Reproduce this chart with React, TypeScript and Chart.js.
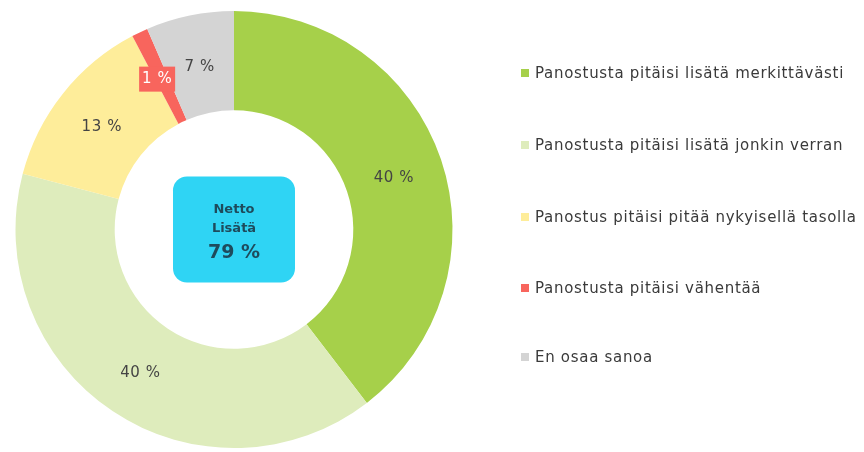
import React, { useEffect, useRef } from "react";
import { Chart, registerables } from "chart.js";

Chart.register(...registerables);

const categories = [
  "Panostusta pitäisi lisätä merkittävästi",
  "Panostusta pitäisi lisätä jonkin verran",
  "Panostus pitäisi pitää nykyisellä tasolla",
  "Panostusta pitäisi vähentää",
  "En osaa sanoa",
];
const values = [39.6, 39.5, 13.2, 1.2, 6.5];
const valueLabels = ["40 %", "40 %", "13 %", "1 %", "7 %"];
const colors = ["#a6d04a", "#deecbc", "#feed9a", "#f8655d", "#d4d4d4"];
const centerTitle = ["Netto", "Lisätä"];
const centerValue = "79 %";

const FONT = "'DejaVu Sans', sans-serif";

const labelPlugin = {
  id: "sliceLabels",
  afterDatasetsDraw(chart: any) {
    const ctx = chart.ctx;
    const meta = chart.getDatasetMeta(0);
    ctx.save();
    ctx.textAlign = "center";
    ctx.textBaseline = "middle";
    ctx.font = `15px ${FONT}`;
    (ctx as any).letterSpacing = "0.6px";
    meta.data.forEach((arc: any, i: number) => {
      const p = arc.getCenterPoint();
      const text = valueLabels[i];
      if (i === 3) {
        const w = 36;
        ctx.fillStyle = colors[3];
        ctx.fillRect(p.x - 4 - w / 2, p.y + 2 - 12.5, w, 25);
        ctx.fillStyle = "#ffffff";
        ctx.fillText(text, p.x - 4, p.y + 2);
      } else {
        ctx.fillStyle = "#444444";
        ctx.fillText(text, p.x, p.y + 3);
      }
    });
    (ctx as any).letterSpacing = "0px";
    // center box
    const cx = (chart.chartArea.left + chart.chartArea.right) / 2;
    const cy = (chart.chartArea.top + chart.chartArea.bottom) / 2;
    const bw = 122, bh = 106;
    ctx.fillStyle = "#2fd4f4";
    ctx.beginPath();
    (ctx as any).roundRect(cx - bw / 2, cy - bh / 2, bw, bh, 14);
    ctx.fill();
    ctx.fillStyle = "#1e4b5c";
    ctx.textBaseline = "alphabetic";
    ctx.font = `bold 13px ${FONT}`;
    ctx.fillText(centerTitle[0], cx, cy - 17);
    ctx.fillText(centerTitle[1], cx, cy + 2);
    ctx.font = `bold 19px ${FONT}`;
    ctx.fillText(centerValue, cx, cy + 28);
    // legend
    const lx = 521;
    const ys = [73, 145, 217, 288, 357];
    ctx.font = `15px ${FONT}`;
    (ctx as any).letterSpacing = "0.7px";
    ctx.textAlign = "left";
    ctx.textBaseline = "middle";
    categories.forEach((c, i) => {
      ctx.fillStyle = colors[i];
      ctx.fillRect(lx, ys[i] - 4, 8, 8);
      ctx.fillStyle = "#3a3a3a";
      ctx.fillText(c, lx + 14, ys[i] + 1);
    });
    ctx.restore();
  },
};

export default function App() {
  const ref = useRef<HTMLCanvasElement>(null);
  useEffect(() => {
    if (!ref.current) return;
    const chart = new Chart(ref.current, {
      type: "doughnut",
      data: {
        labels: categories,
        datasets: [
          {
            data: values,
            backgroundColor: colors,
            borderWidth: 0,
          },
        ],
      },
      options: {
        animation: false,
        responsive: true,
        maintainAspectRatio: false,
        cutout: "54.6%",
        layout: { padding: { left: 15, right: 411, top: 11, bottom: 4 } },
        plugins: {
          legend: { display: false },
          tooltip: { enabled: false },
        },
      },
      plugins: [labelPlugin],
    });
    return () => chart.destroy();
  }, []);
  return (
    <div style={{ position: "fixed", left: 0, top: 0, width: 864, height: 452, background: "#fff" }}>
      <canvas ref={ref} />
    </div>
  );
}
